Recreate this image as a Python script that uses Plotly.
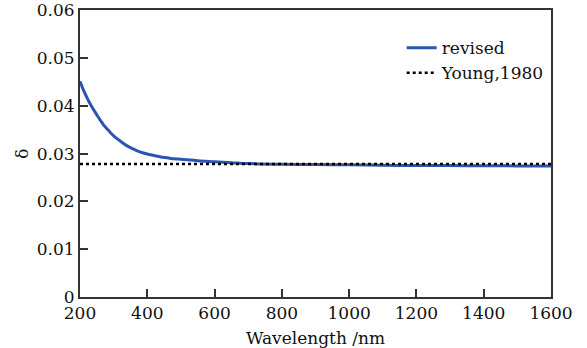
import plotly.graph_objects as go

wavelength = [200, 210, 220, 230, 240, 250, 260, 270, 280, 290, 300, 320, 340, 360, 380, 400, 420,
              440, 460, 480, 500, 550, 600, 650, 700, 800, 900, 1000, 1100, 1200, 1300, 1400, 1500, 1600]
revised = [0.0451, 0.0433, 0.0418, 0.0404, 0.0392, 0.0381, 0.0370, 0.0360, 0.0352, 0.0344, 0.0337,
           0.0326, 0.0316, 0.0309, 0.0303, 0.0299, 0.0296, 0.0293, 0.0291, 0.0289, 0.0288, 0.0285,
           0.0283, 0.0281, 0.0279, 0.02775, 0.0277, 0.02765, 0.02755, 0.0275, 0.02748, 0.02745,
           0.02742, 0.0274]
young_x = [200, 1600]
young_y = [0.0278, 0.0278]

x_ticks = [200, 400, 600, 800, 1000, 1200, 1400, 1600]
y_ticks = [0, 0.01, 0.02, 0.03, 0.04, 0.05, 0.06]
y_tick_labels = ["0", "0.01", "0.02", "0.03", "0.04", "0.05", "0.06"]

font_family = "DejaVu Serif"

fig = go.Figure()
fig.add_trace(go.Scatter(x=wavelength, y=revised, mode="lines", name="revised",
                         line=dict(color="#2b55b0", width=3, shape="spline")))
fig.add_trace(go.Scatter(x=young_x, y=young_y, mode="lines", name="Young,1980",
                         line=dict(color="black", width=2.5, dash="dot")))

axis_common = dict(showline=True, linecolor="#333333", linewidth=2, mirror=True,
                   ticks="inside", ticklen=8, tickwidth=1.5, tickcolor="#333333",
                   showgrid=False, zeroline=False, automargin=False,
                   tickfont=dict(family=font_family, size=17, color="#111111"))

fig.update_layout(
    width=587, height=348,
    margin=dict(l=80, r=36, t=10, b=51),
    paper_bgcolor="white", plot_bgcolor="white",
    font=dict(family=font_family, size=17, color="#111111"),
    showlegend=True,
    legend=dict(x=0.683, y=0.93, xanchor="left", yanchor="top",
                bgcolor="rgba(0,0,0,0)", font=dict(family=font_family, size=17),
                tracegroupgap=0),
    xaxis=dict(range=[200, 1600], tickvals=x_ticks,
               title=dict(text="Wavelength /nm", standoff=14,
                          font=dict(family=font_family, size=17)),
               **axis_common),
    yaxis=dict(range=[0, 0.06002], tickvals=y_ticks, ticktext=y_tick_labels,
               ticklabeloverflow="allow",
               title=dict(text="δ", standoff=4, font=dict(family=font_family, size=17)),
               **axis_common),
)

fig.write_html("out.html")
